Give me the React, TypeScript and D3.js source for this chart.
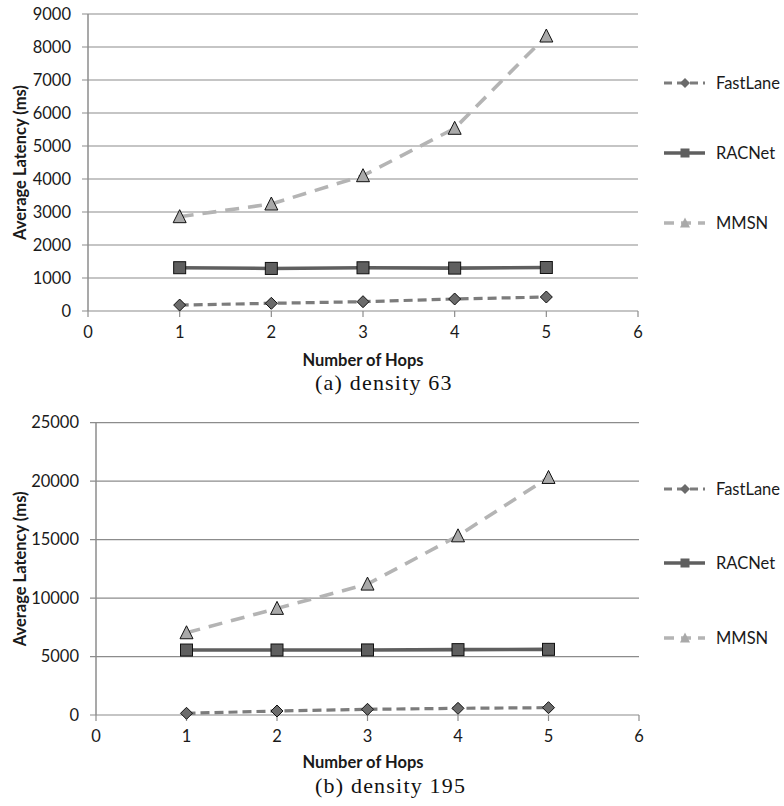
import React from "react";
import * as d3 from "d3";

const hops = [1, 2, 3, 4, 5];
const seriesNames = ["FastLane", "RACNet", "MMSN"];

const fastLaneA = [180, 233, 282, 364, 424];
const racNetA = [1312, 1290, 1310, 1300, 1318];
const mmsnA = [2858, 3242, 4100, 5536, 8333];
const yTicksA = [0, 1000, 2000, 3000, 4000, 5000, 6000, 7000, 8000, 9000];

const fastLaneB = [145, 342, 487, 570, 627];
const racNetB = [5556, 5560, 5565, 5590, 5615];
const mmsnB = [7034, 9120, 11197, 15325, 20316];
const yTicksB = [0, 5000, 10000, 15000, 20000, 25000];

const xTicks = [0, 1, 2, 3, 4, 5, 6];

const FONT = "Lato, 'Open Sans', sans-serif";
const FS = 16.5;
const GRID = "#8c8c8c";

type Style = {
  color: string;
  fill: string;
  width: number;
  dash: string | null;
  marker: "diamond" | "square" | "triangle";
};
const styles: Style[] = [
  { color: "#7c7c7c", fill: "#6b6b6b", width: 3.2, dash: "9,5", marker: "diamond" },
  { color: "#5f5f5f", fill: "#5f5f5f", width: 3.6, dash: null, marker: "square" },
  { color: "#b4b4b4", fill: "#a9a9a9", width: 3.6, dash: "14,9", marker: "triangle" },
];

function Marker({ kind, x, y, fill, stroke, size }: { kind: string; x: number; y: number; fill: string; stroke: string; size: number }) {
  if (kind === "diamond") {
    const r = size / 2;
    return <path d={`M${x},${y - r}L${x + r},${y}L${x},${y + r}L${x - r},${y}Z`} fill={fill} stroke={stroke} strokeWidth={1} />;
  }
  if (kind === "square") {
    const r = size / 2;
    return <rect x={x - r} y={y - r} width={size} height={size} fill={fill} stroke={stroke} strokeWidth={1} />;
  }
  const r = size / 2;
  return <path d={`M${x},${y - r - 1}L${x + r + 0.5},${y + r}L${x - r - 0.5},${y + r}Z`} fill={fill} stroke={stroke} strokeWidth={1} />;
}

type PanelProps = {
  top: number;
  bottom: number;
  left: number;
  right: number;
  yMax: number;
  yTicks: number[];
  data: number[][];
  legendY: number[];
  caption: string;
  xLabelY: number;
  xTitleY: number;
  captionY: number;
  yTitleX: number;
};

function Panel(p: PanelProps) {
  const x = d3.scaleLinear().domain([0, 6]).range([p.left, p.right]);
  const y = d3.scaleLinear().domain([0, p.yMax]).range([p.bottom, p.top]);
  const line = d3
    .line<number>()
    .x((_, i) => x(hops[i]))
    .y((d) => y(d));
  const midY = (p.top + p.bottom) / 2;
  return (
    <g>
      {p.yTicks.map((t) => (
        <g key={"g" + t}>
          <line x1={p.left - 6} x2={p.right} y1={y(t)} y2={y(t)} stroke={GRID} strokeWidth={1.2} />
          <text x={p.left - 17} y={y(t)} dy="0.35em" textAnchor="end" fontFamily={FONT} fontSize={FS} fill="#1a1a1a">
            {t}
          </text>
        </g>
      ))}
      <line x1={p.left} x2={p.left} y1={p.top} y2={p.bottom} stroke={GRID} strokeWidth={1.5} />
      {xTicks.map((t) => (
        <g key={"x" + t}>
          <line x1={x(t)} x2={x(t)} y1={p.bottom} y2={p.bottom + 6} stroke={GRID} strokeWidth={1.2} />
          <text x={x(t)} y={p.xLabelY} textAnchor="middle" fontFamily={FONT} fontSize={FS} fill="#1a1a1a">
            {t}
          </text>
        </g>
      ))}
      {p.data.map((vals, si) => {
        const s = styles[si];
        return (
          <g key={"s" + si}>
            <path d={line(vals) || ""} fill="none" stroke={s.color} strokeWidth={s.width} strokeDasharray={s.dash || undefined} />
            {vals.map((v, i) => (
              <Marker key={i} kind={s.marker} x={x(hops[i])} y={y(v)} fill={s.fill} stroke="#111" size={s.marker === "diamond" ? 12 : 12} />
            ))}
          </g>
        );
      })}
      {seriesNames.map((name, si) => {
        const s = styles[si];
        const ly = p.legendY[si];
        return (
          <g key={"l" + si}>
            <line x1={664} x2={705} y1={ly} y2={ly} stroke={s.color} strokeWidth={s.width} strokeDasharray={s.dash ? (si === 0 ? "8,5" : "10,7") : undefined} />
            <Marker kind={s.marker} x={685} y={ly} fill={s.fill} stroke="none" size={s.marker === "diamond" ? 10 : 9} />
            <text x={716} y={ly} dy="0.35em" fontFamily={FONT} fontSize={FS} fill="#1a1a1a">
              {name}
            </text>
          </g>
        );
      })}
      <text
        transform={`translate(${p.yTitleX},${midY}) rotate(-90)`}
        textAnchor="middle"
        dy="0.35em"
        fontFamily={FONT}
        fontWeight="bold"
        fontSize={FS}
        fill="#1a1a1a"
      >
        Average Latency (ms)
      </text>
      <text x={363} y={p.xTitleY} textAnchor="middle" fontFamily={FONT} fontWeight="bold" fontSize={FS} fill="#1a1a1a">
        Number of Hops
      </text>
      <text x={315} y={p.captionY} textAnchor="start" fontFamily="'Liberation Serif', serif" fontSize={22} letterSpacing={1.2} fill="#111">
        {p.caption}
      </text>
    </g>
  );
}

export default function App() {
  return (
    <svg width={784} height={806} style={{ position: "absolute", left: 0, top: 0, background: "#fff" }}>
      <rect width={784} height={806} fill="#fff" />
      <Panel
        top={14}
        bottom={311}
        left={88}
        right={638}
        yMax={9000}
        yTicks={yTicksA}
        data={[fastLaneA, racNetA, mmsnA]}
        legendY={[83, 153, 223]}
        caption="(a) density 63"
        xLabelY={338}
        xTitleY={366}
        captionY={390}
        yTitleX={20}
      />
      <Panel
        top={422.7}
        bottom={715}
        left={96}
        right={639}
        yMax={25000}
        yTicks={yTicksB}
        data={[fastLaneB, racNetB, mmsnB]}
        legendY={[489, 563, 638]}
        caption="(b) density 195"
        xLabelY={742}
        xTitleY={768}
        captionY={793}
        yTitleX={20}
      />
    </svg>
  );
}
